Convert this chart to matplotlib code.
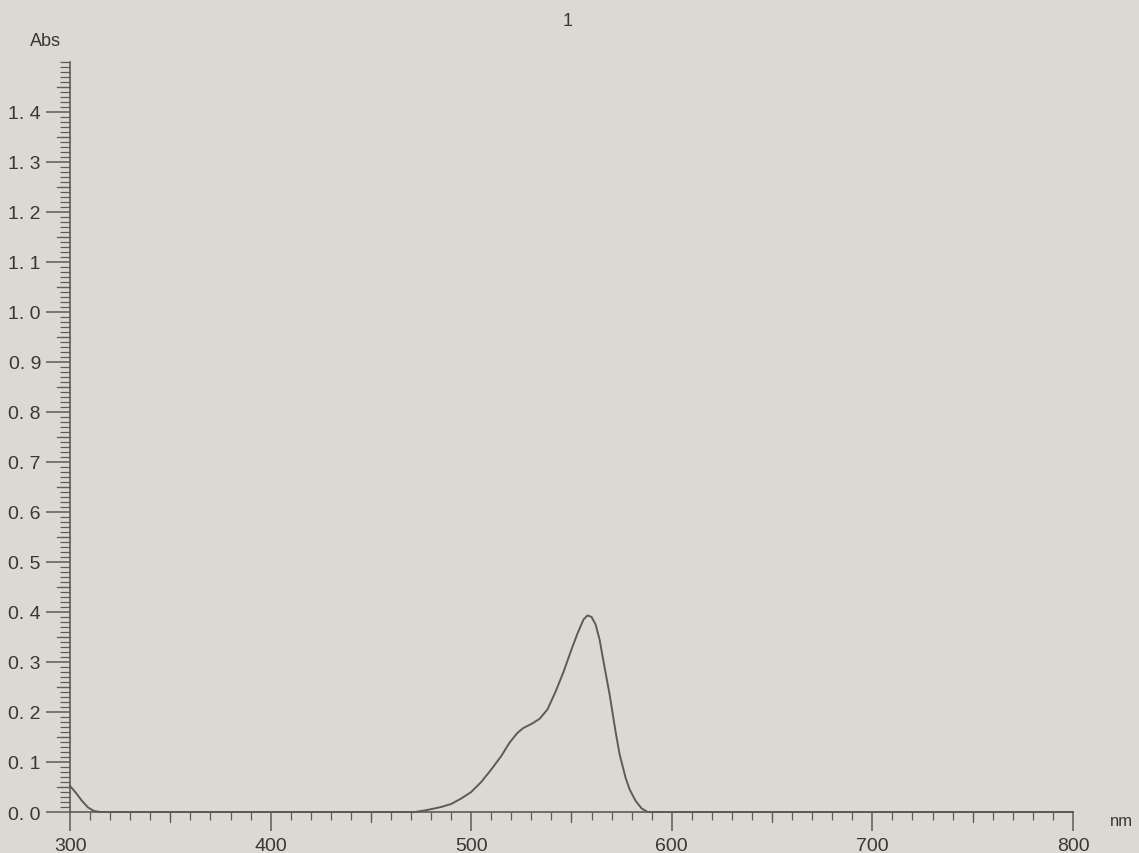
import numpy as np
import matplotlib.pyplot as plt
from matplotlib.ticker import MultipleLocator

plt.rcParams['font.family'] = ['Liberation Sans Narrow', 'Liberation Sans', 'DejaVu Sans']

# absorbance spectrum
wavelength = [300, 303, 306, 309, 312, 315, 472, 478, 485, 490, 495, 500, 505, 510,
              515, 519, 523, 526, 530, 534, 538, 542, 546, 550, 553, 556, 558, 560,
              562, 564, 566, 569, 572, 574, 577, 579, 582, 585, 588, 800]
absorbance = [0.052, 0.038, 0.022, 0.009, 0.002, 0.0, 0.0, 0.004, 0.010, 0.016, 0.027,
              0.040, 0.060, 0.085, 0.112, 0.138, 0.158, 0.168, 0.176, 0.186, 0.205,
              0.240, 0.280, 0.325, 0.357, 0.385, 0.393, 0.390, 0.375, 0.345, 0.300,
              0.235, 0.160, 0.115, 0.068, 0.045, 0.022, 0.007, 0.0, 0.0]
y_ticks = np.round(np.arange(0, 1.45, 0.1), 1)
x_ticks = [300, 400, 500, 600, 700, 800]

paper = '#dcd8d3'
ink = '#5f5a56'

fig = plt.figure(figsize=(11.39, 8.54), dpi=100, facecolor=paper)
ax = fig.add_axes([0.0615, 0.048, 0.8805, 0.8785], facecolor=paper)

ax.plot(wavelength, absorbance, color=ink, lw=1.4, clip_on=False)

ax.set_xlim(300, 800)
ax.set_ylim(0, 1.5)
for s in ['top', 'right']:
    ax.spines[s].set_visible(False)
for s in ['left', 'bottom']:
    ax.spines[s].set_color(ink)
    ax.spines[s].set_linewidth(1.2)

ax.set_yticks(y_ticks)
ax.set_yticklabels(['%d. %d' % (int(v), round(v * 10) % 10) for v in y_ticks])
ax.yaxis.set_minor_locator(MultipleLocator(0.01))
ax.tick_params(axis='y', which='major', length=17, width=1.1, color=ink, pad=4,
               labelsize=14, labelcolor='#3a3633')
ax.tick_params(axis='y', which='minor', length=7, width=0.9, color=ink)
# medium ticks at the half steps
for v in np.arange(0.05, 1.5, 0.1):
    ax.plot([-0.013, 0], [v, v], transform=ax.get_yaxis_transform(), color=ink,
            lw=0.9, clip_on=False)

ax.set_xticks(x_ticks)
ax.set_xticklabels([str(v) for v in x_ticks])
ax.xaxis.set_minor_locator(MultipleLocator(10))
ax.tick_params(axis='x', which='major', length=14, width=1.1, color=ink, pad=4,
               labelsize=14, labelcolor='#3a3633')
ax.tick_params(axis='x', which='minor', length=6, width=0.9, color=ink)
for v in np.arange(350, 800, 100):
    ax.plot([v, v], [0, -0.0135], transform=ax.get_xaxis_transform(), color=ink,
            lw=0.9, clip_on=False)

fig.text(45 / 1139, 1 - 42 / 854, 'Abs', ha='center', va='center', fontsize=13, color='#3a3633')
fig.text(1121 / 1139, 1 - 822 / 854, 'nm', ha='center', va='center', fontsize=12, color='#3a3633')
fig.text(568 / 1139, 1 - 22 / 854, '1', ha='center', va='center', fontsize=13, color='#3a3633')

fig.savefig('out.png', dpi=100, facecolor=paper)
